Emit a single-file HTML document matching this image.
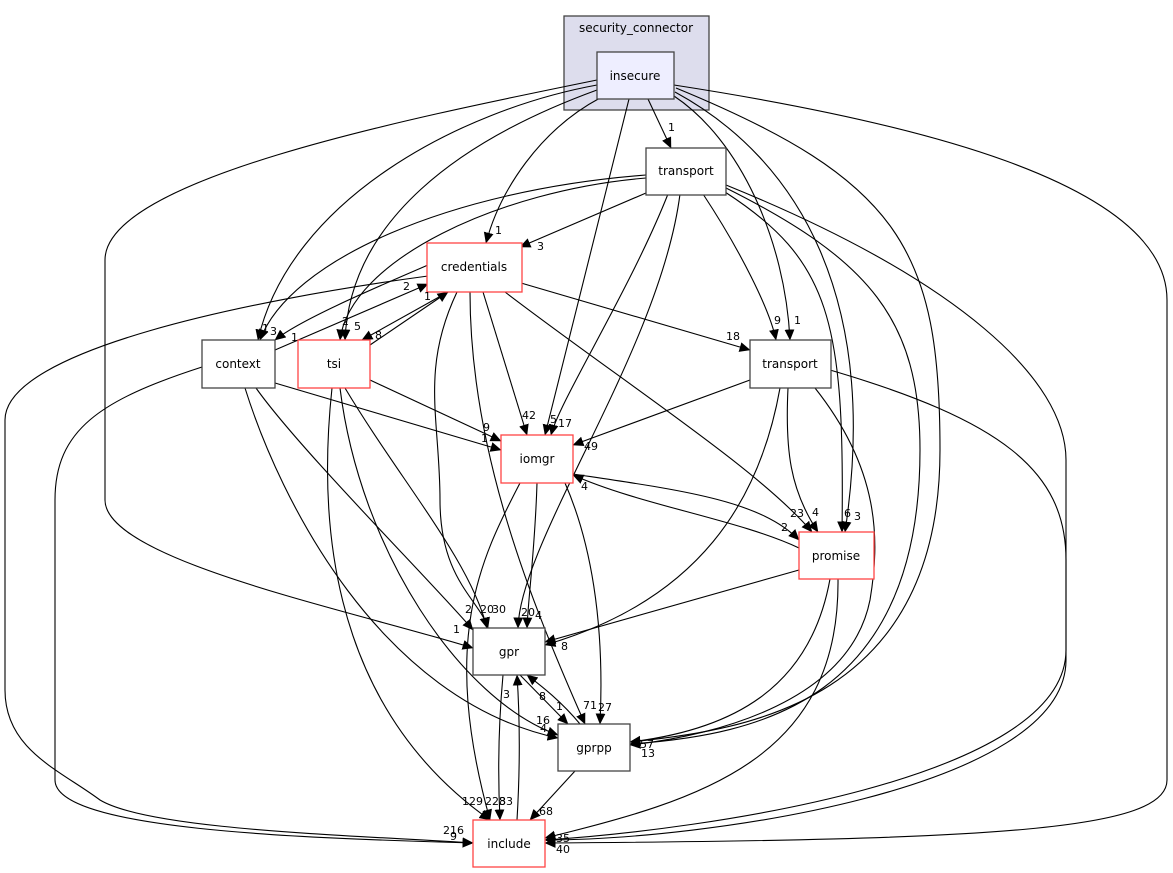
<!DOCTYPE html>
<html><head><meta charset="utf-8"><style>
html,body{margin:0;padding:0;background:#fff;}
svg{display:block;font-family:"DejaVu Sans","Liberation Sans",sans-serif;}
</style></head><body>
<svg width="1173" height="873" viewBox="0 0 1173 873" xmlns="http://www.w3.org/2000/svg">
<defs><marker id="a" viewBox="0 0 10 10" refX="9.5" refY="5" markerWidth="11" markerHeight="11" markerUnits="userSpaceOnUse" orient="auto"><path d="M0,0.5L10,5L0,9.5z" fill="#000"/></marker></defs>
<rect x="564" y="16" width="145" height="94" fill="#dddded" stroke="#444" stroke-width="1.3"/>
<text x="636" y="32" font-size="12" text-anchor="middle">security_connector</text>
<g fill="none" stroke="#000" stroke-width="1.1" marker-end="url(#a)">
<path d="M597,85 C460,110 290,200 258,340"/>
<path d="M597,90 C460,140 350,220 345,340"/>
<path d="M600,98 C540,130 500,190 486,243"/>
<path d="M629,99 L545,435"/>
<path d="M648,99 L671,148"/>
<path d="M674,96 C740,140 785,240 790,340"/>
<path d="M675,92 C800,160 880,300 845,532"/>
<path d="M676,88 C900,180 940,250 940,450 C940,700 750,730 630,742"/>
<path d="M674,85 C900,120 1167,180 1167,300 L1167,780 C1167,830 1000,840 545,843"/>
<path d="M597,80 C400,120 105,180 105,260 L105,500 C105,560 350,610 473,648"/>
<path d="M646,175 C450,190 290,260 260,340"/>
<path d="M646,178 C500,190 350,260 340,340"/>
<path d="M646,193 L520,247"/>
<path d="M668,194 C630,290 560,400 551,435"/>
<path d="M680,194 C660,350 520,540 518,628"/>
<path d="M703,194 C740,250 770,310 776,340"/>
<path d="M725,192 C830,260 845,320 842,532"/>
<path d="M726,188 C870,260 920,320 920,450 C920,700 760,735 630,744"/>
<path d="M726,185 C960,280 1066,380 1066,460 L1066,660 C1066,790 700,840 545,840"/>
<path d="M428,265 C370,290 300,320 275,340"/>
<path d="M448,292 L362,340"/>
<path d="M483,292 L527,435"/>
<path d="M457,292 C420,370 440,420 440,500 C440,580 480,600 488,628"/>
<path d="M470,292 C470,450 530,600 585,724"/>
<path d="M521,283 L750,350"/>
<path d="M505,292 C620,380 760,470 812,532"/>
<path d="M428,276 C250,300 5,350 5,420 L5,690 C5,750 60,770 100,800 C150,830 350,835 473,843"/>
<path d="M275,350 L428,284"/>
<path d="M275,383 L501,450"/>
<path d="M256,388 C300,450 430,580 473,630"/>
<path d="M245,388 C280,500 380,700 558,738"/>
<path d="M202,367 C100,400 55,430 55,500 L55,780 C55,830 300,838 473,843"/>
<path d="M370,345 L448,292"/>
<path d="M370,380 L501,441"/>
<path d="M345,388 C400,480 470,560 487,628"/>
<path d="M340,388 C360,550 460,700 558,735"/>
<path d="M332,388 C320,500 320,700 490,820"/>
<path d="M750,380 L573,445"/>
<path d="M780,388 C760,500 700,600 545,645"/>
<path d="M788,388 C785,450 790,490 818,532"/>
<path d="M815,388 C880,470 880,540 870,600 C850,700 720,735 630,745"/>
<path d="M830,370 C1000,420 1066,470 1066,560 L1066,650 C1066,780 700,830 545,840"/>
<path d="M573,474 C680,490 760,500 799,540"/>
<path d="M537,483 C535,550 528,600 527,628"/>
<path d="M565,483 C590,540 605,620 600,724"/>
<path d="M520,483 C480,560 440,640 490,820"/>
<path d="M799,548 C740,520 640,505 573,475"/>
<path d="M799,570 L545,642"/>
<path d="M830,579 C810,690 730,730 630,742"/>
<path d="M838,579 C840,760 700,800 545,838"/>
<path d="M520,675 L568,724"/>
<path d="M503,675 C498,730 498,780 500,820"/>
<path d="M580,724 C560,700 540,685 527,675"/>
<path d="M575,771 L530,820"/>
<path d="M517,820 C520,770 520,720 517,675"/>
</g>
<rect x="597" y="52" width="77" height="47" fill="#eeeeff" stroke="#444" stroke-width="1.3"/>
<text x="635" y="80" font-size="12" text-anchor="middle">insecure</text>
<g fill="#fff" stroke="#444" stroke-width="1.3">
<rect x="646" y="148" width="80" height="47"/>
<rect x="202" y="340" width="73" height="48"/>
<rect x="750" y="340" width="81" height="48"/>
<rect x="473" y="628" width="72" height="47"/>
<rect x="558" y="724" width="72" height="47"/>
</g>
<g fill="#fff" stroke="#ff4444" stroke-width="1.3">
<rect x="427" y="243" width="95" height="49"/>
<rect x="298" y="340" width="72" height="48"/>
<rect x="501" y="435" width="72" height="48"/>
<rect x="799" y="532" width="75" height="47"/>
<rect x="473" y="820" width="72" height="47"/>
</g>
<g font-size="12" text-anchor="middle">
<text x="686" y="175">transport</text>
<text x="474" y="271">credentials</text>
<text x="238" y="368">context</text>
<text x="334" y="368">tsi</text>
<text x="790" y="368">transport</text>
<text x="537" y="463">iomgr</text>
<text x="836" y="560">promise</text>
<text x="509" y="656">gpr</text>
<text x="594" y="752">gprpp</text>
<text x="509" y="848">include</text>
</g>
<g font-size="11">
<text x="668" y="131">1</text>
<text x="495" y="234">1</text>
<text x="537" y="250">3</text>
<text x="262" y="332">1</text>
<text x="270" y="335">3</text>
<text x="291" y="341">1</text>
<text x="403" y="290">2</text>
<text x="424" y="300">1</text>
<text x="342" y="325">2</text>
<text x="354" y="330">5</text>
<text x="375" y="339">8</text>
<text x="522" y="419">42</text>
<text x="550" y="423">5</text>
<text x="558" y="427">17</text>
<text x="483" y="431">9</text>
<text x="481" y="442">1</text>
<text x="584" y="450">49</text>
<text x="581" y="490">4</text>
<text x="726" y="340">18</text>
<text x="774" y="324">9</text>
<text x="794" y="324">1</text>
<text x="790" y="517">23</text>
<text x="812" y="516">4</text>
<text x="844" y="517">6</text>
<text x="854" y="520">3</text>
<text x="781" y="531">2</text>
<text x="465" y="613">2</text>
<text x="480" y="613">20</text>
<text x="492" y="613">30</text>
<text x="521" y="616">20</text>
<text x="535" y="619">4</text>
<text x="453" y="633">1</text>
<text x="561" y="650">8</text>
<text x="503" y="698">3</text>
<text x="539" y="700">8</text>
<text x="556" y="710">1</text>
<text x="583" y="709">71</text>
<text x="598" y="711">27</text>
<text x="536" y="724">16</text>
<text x="540" y="732">4</text>
<text x="640" y="748">57</text>
<text x="641" y="757">13</text>
<text x="462" y="805">129</text>
<text x="485" y="805">228</text>
<text x="499" y="805">33</text>
<text x="539" y="815">68</text>
<text x="443" y="834">216</text>
<text x="450" y="840">9</text>
<text x="556" y="842">35</text>
<text x="556" y="853">40</text>
</g>
</svg>
</body></html>
